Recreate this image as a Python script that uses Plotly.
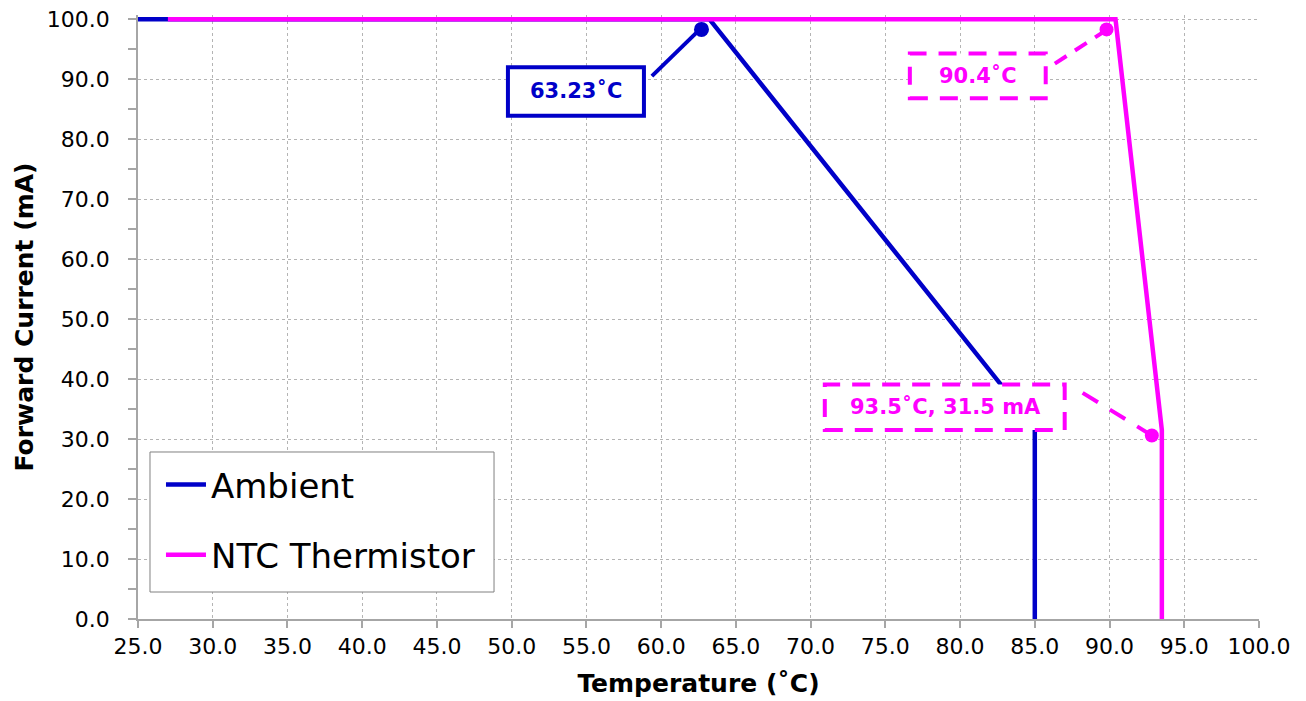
import plotly.graph_objects as go

# ---- data ----
ambient_temp = [25.0, 63.23, 85.0, 85.0]
ambient_current = [100.0, 100.0, 32.0, 0.0]
ntc_temp = [27.0, 90.4, 93.5, 93.5]
ntc_current = [100.0, 100.0, 31.5, 0.0]

x_ticks = [25.0 + 5 * i for i in range(16)]
y_ticks = [10.0 * i for i in range(11)]

series_names = ["Ambient", "NTC Thermistor"]
callout_texts = ["63.23˚C", "90.4˚C", "93.5˚C, 31.5 mA"]

BLUE = "#0000C8"
MAGENTA = "#FF00FF"
FONT = "DejaVu Sans"

fig = go.Figure()
fig.add_trace(go.Scatter(x=ambient_temp, y=ambient_current, mode="lines",
                         name=series_names[0], legendgroup="a",
                         line=dict(color=BLUE, width=4.5)))
fig.add_trace(go.Scatter(x=ntc_temp, y=ntc_current, mode="lines",
                         name=series_names[1], legendgroup="b",
                         line=dict(color=MAGENTA, width=4.5)))

# callout marker dots
fig.add_trace(go.Scatter(x=[62.7], y=[98.3], mode="markers", showlegend=False,
                         marker=dict(color=BLUE, size=15), hoverinfo="skip"))
fig.add_trace(go.Scatter(x=[89.8, 92.83], y=[98.3, 30.6], mode="markers", showlegend=False,
                         marker=dict(color=MAGENTA, size=14), hoverinfo="skip"))

shapes = []
# legend frame
shapes.append(dict(type="rect", xref="paper", yref="paper", x0=0.0107, x1=0.3176, y0=0.0447, y1=0.2765,
                   line=dict(color="#808080", width=1), fillcolor="white", layer="above"))
# callout 1 (solid blue)
shapes.append(dict(type="line", xref="x", yref="y", x0=59.38, y0=90.5, x1=62.59, y1=98.3,
                   line=dict(color=BLUE, width=4), layer="above"))
shapes.append(dict(type="rect", xref="x", yref="y", x0=49.75, x1=58.85, y0=83.9, y1=92.0,
                   line=dict(color=BLUE, width=4), fillcolor="white", layer="above"))
# callout 2 (dashed magenta)
shapes.append(dict(type="line", xref="x", yref="y", x0=86.34, y0=92.6, x1=89.8, y1=98.2,
                   line=dict(color=MAGENTA, width=4, dash="14px,10px"), layer="above"))
shapes.append(dict(type="rect", xref="x", yref="y", x0=76.64, x1=85.73, y0=86.8, y1=94.3,
                   line=dict(color=MAGENTA, width=4, dash="18px,12px"), fillcolor="white", layer="above"))
# callout 3 (dashed magenta)
shapes.append(dict(type="line", xref="x", yref="y", x0=88.2, y0=37.7, x1=92.83, y1=30.6,
                   line=dict(color=MAGENTA, width=4, dash="18px,14px"), layer="above"))
shapes.append(dict(type="rect", xref="x", yref="y", x0=70.95, x1=87.0, y0=31.5, y1=39.1,
                   line=dict(color=MAGENTA, width=4, dash="18px,12px"), fillcolor="white", layer="above"))

annotations = [
    dict(x=54.3, y=88.0, xref="x", yref="y", text="<b>%s</b>" % callout_texts[0], showarrow=False,
         font=dict(family=FONT, size=21, color=BLUE)),
    dict(x=81.2, y=90.5, xref="x", yref="y", text="<b>%s</b>" % callout_texts[1], showarrow=False,
         font=dict(family=FONT, size=21, color=MAGENTA)),
    dict(x=79.0, y=35.3, xref="x", yref="y", text="<b>%s</b>" % callout_texts[2], showarrow=False,
         font=dict(family=FONT, size=21, color=MAGENTA)),
]

fig.update_layout(
    width=1306, height=701,
    margin=dict(l=138, r=47, t=15, b=82, autoexpand=False),
    plot_bgcolor="white", paper_bgcolor="white",
    font=dict(family=FONT, color="black"),
    shapes=shapes, annotations=annotations,
    showlegend=True,
    legend=dict(x=0.0205, y=0.27, xanchor="left", yanchor="top",
                bgcolor="rgba(0,0,0,0)", borderwidth=0,
                font=dict(family=FONT, size=34, color="black"),
                itemwidth=40,
                tracegroupgap=23, traceorder="grouped"),
)

fig.update_xaxes(
    range=[25, 100], tickvals=x_ticks, tickformat=".1f", automargin=False,
    showline=True, linecolor="#A6A6A6", linewidth=1.5,
    ticks="outside", ticklen=7, tickcolor="#A6A6A6", tickwidth=1.5,
    showgrid=True, gridcolor="#B4B4B4", gridwidth=1, griddash="3px,3px",
    zeroline=False,
    tickfont=dict(family=FONT, size=22, color="black"),
    title=dict(text="<b>Temperature (˚C)</b>", font=dict(family=FONT, size=25, color="black"), standoff=16),
)
fig.update_yaxes(
    range=[0, 100.7], tickvals=y_ticks, tickformat=".1f", automargin=False,
    showline=True, linecolor="#A6A6A6", linewidth=1.5,
    ticks="outside", ticklen=8, tickcolor="#A6A6A6", tickwidth=1.5,
    minor=dict(tickvals=[5.0 + 10 * i for i in range(10)], ticks="outside", ticklen=8,
               tickcolor="#A6A6A6", tickwidth=1.5, showgrid=False),
    showgrid=True, gridcolor="#B4B4B4", gridwidth=1, griddash="3px,3px",
    zeroline=False, ticklabelstandoff=14, ticklabeloverflow="allow",
    tickfont=dict(family=FONT, size=22, color="black"),
    title=dict(text="<b>Forward Current (mA)</b>", font=dict(family=FONT, size=25, color="black"), standoff=6),
)

fig.write_html("out.html", config={"displayModeBar": False},
               post_script="document.body.style.margin='0';")
